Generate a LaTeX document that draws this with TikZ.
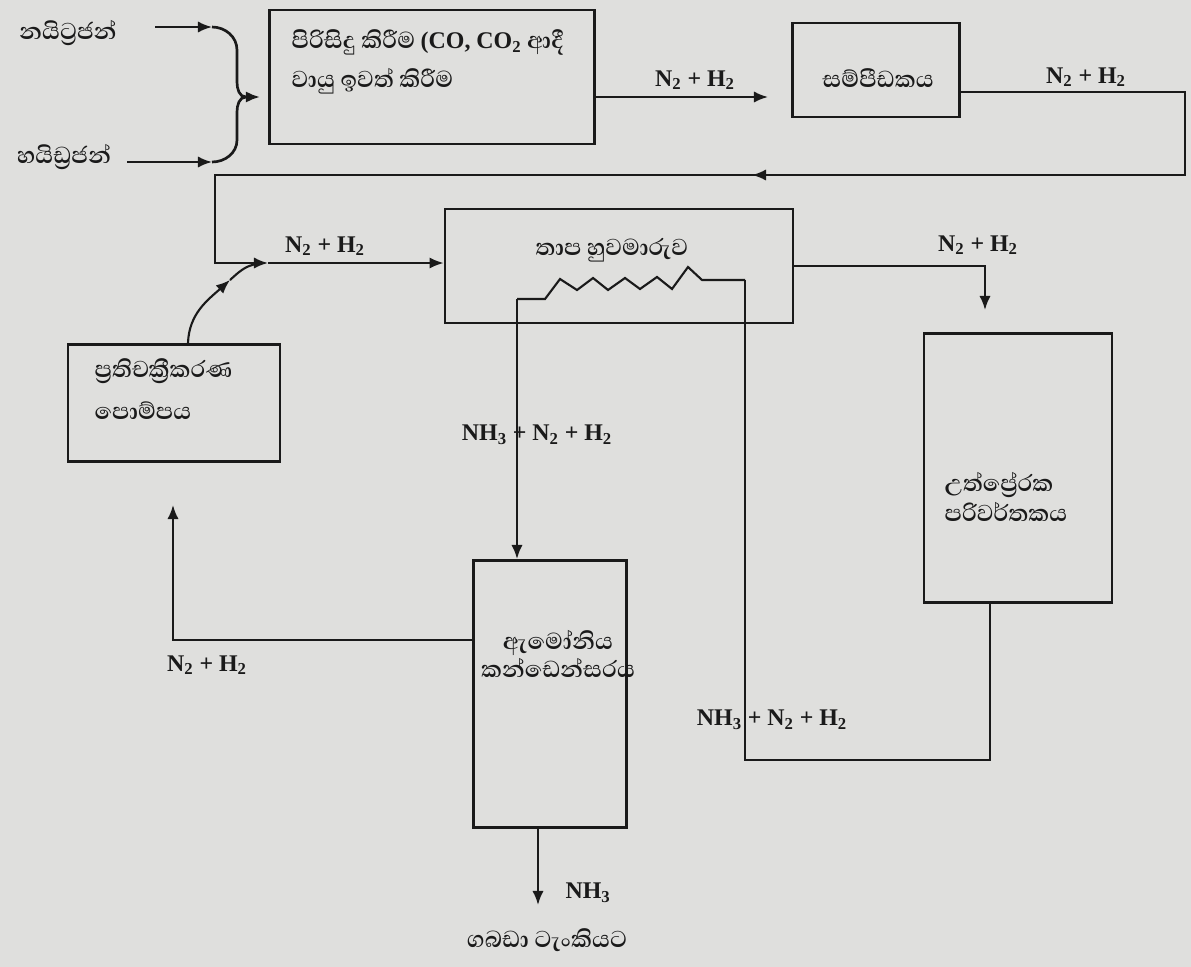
\documentclass[tikz,border=0pt]{standalone}
\usepackage{fontspec}
\setmainfont{Liberation Serif}
\newfontfamily\sinfont[Script=Sinhala]{Abhaya Libre}
\usetikzlibrary{arrows.meta, positioning, calc}
\definecolor{ink}{HTML}{1A1A1A}
\definecolor{paper}{HTML}{DFDFDD}
\newcommand{\synmix}{N\textsubscript{2} + H\textsubscript{2}}
\newcommand{\outmix}{NH\textsubscript{3} + N\textsubscript{2} + H\textsubscript{2}}
\tikzset{
  >={Latex[length=10pt, width=8pt]},
  %
  unit/.style={draw=ink, line width=1.9pt, inner sep=0pt},
  pipe/.style={draw=ink, line width=1.5pt},
  flow/.style={pipe, ->},
  %
  gas/.style={font=\bfseries\fontsize{17}{19}\selectfont, text=ink, inner sep=1pt},
  sin/.style={font=\sinfont\bfseries\fontsize{21}{24}\selectfont, text=ink, inner sep=1pt},
}
\begin{document}
\begin{tikzpicture}[x=0.025cm, y=-0.025cm]
  \fill[paper] (0,0) rectangle (1191,967);
  \useasboundingbox (0,0) rectangle (1191,967);

  % --- the units ---------------------------------------------------------
  \node[unit, minimum width=8.13cm, minimum height=3.35cm] (purify) at (432,77) {};
  \node[unit, minimum width=4.18cm, minimum height=2.35cm] (compressor) at (876,70) {};
  \node[unit, minimum width=8.7cm, minimum height=2.85cm] (heatex) at (619,266) {};
  \node[unit, minimum width=5.3cm, minimum height=2.93cm] (pump) at (174,403) {};
  \node[unit, minimum width=3.83cm, minimum height=6.68cm] (condenser) at (550,694) {};
  \node[unit, minimum width=4.7cm, minimum height=6.73cm] (converter) at (1018,468) {};

  \node[sin, anchor=west, align=left, font=\sinfont\bfseries\fontsize{21}{28}\selectfont] (purifytxt) at (290,62)
    {පිරිසිදු කිරීම {\rmfamily\bfseries\fontsize{17}{19}\selectfont (CO, CO\textsubscript{2}} ආදී\\වායු ඉවත් කිරීම};
  \node[sin] (comptxt) at (878,78) {සම්පීඩකය};
  \node[sin] (heattxt) at (612,250) {තාප හුවමාරුව};
  \node[sin, anchor=west, align=left, font=\sinfont\bfseries\fontsize{21}{30}\selectfont] (pumptxt) at (93,389)
    {ප්^^^^200dරතිචක්^^^^200dරීකරණ\\පොම්පය};
  \node[sin, align=center, font=\sinfont\bfseries\fontsize{21}{20}\selectfont] (condtxt) at (558,654)
    {ඇමෝනිය\\කන්ඩෙන්සරය};
  \node[sin, anchor=west, align=left, font=\sinfont\bfseries\fontsize{21}{21}\selectfont] (convtxt) at (943,497)
    {උත්ප්^^^^200dරේරක\\පරිවර්තකය};
  \node[sin] (tanktxt) at (547,940) {ගබඩා ටැංකියට};

  % --- feed gases into the purifier --------------------------------------
  \node[sin] (nitro) at (68,33) {නයිට්^^^^200dරජන්};
  \node[sin] (hydro) at (64,157) {හයිඩ්^^^^200dරජන්};
  \coordinate (nin) at (155,27);
  \coordinate (hin) at (127,162);
  \coordinate (bt) at (212,27);
  \coordinate (bb) at (212,162);
  \coordinate (bj) at (246,97);
  \draw[flow] (nin) -- (bt);
  \draw[flow] (hin) -- (bb);
  \draw[unit] (bt) to[out=0, in=90] (237,50) -- (237,82) to[out=-90, in=180] (bj);
  \draw[unit] (bb) to[out=0, in=-90] (237,140) -- (237,112) to[out=90, in=180] (bj);
  \draw[flow, line width=1.9pt, shorten >=0.2cm] (bj) -- (purify.west |- bj);

  % --- purifier, compressor, and back round ------------------------------
  \coordinate (cmpin) at (768,97);
  \draw[flow] (cmpin -| purify.east) -- (cmpin);
  \node[gas] (g1) at (695,80) {\synmix};

  \coordinate (rt) at (1185,92);
  \coordinate (rb) at (1185,175);
  \coordinate (lmid) at (752,175);
  \coordinate (lt) at (215,175);
  \coordinate (lb) at (215,263);
  \coordinate (merge) at (268,263);
  \draw[pipe] (rt -| compressor.east) -- (rt) -- (rb) -- (lmid);
  \draw[flow] (rb) -- (lmid);
  \draw[flow] (lmid) -- (lt) -- (lb) -- (merge);
  \draw[flow] (merge) -- (merge -| heatex.west);
  \node[gas] (g2) at (1086,77) {\synmix};
  \node[gas] (g3) at (325,246) {\synmix};

  % recycle pump joins the feed
  \coordinate (pmpmid) at (230,280);
  \coordinate (pmpjoin) at (256,264);
  \draw[flow] (pump.north -| 188,0) to[out=88, in=222] (pmpmid);
  \draw[pipe] (pmpmid) to[out=42, in=192] (pmpjoin);

  % --- heat exchanger coil -----------------------------------------------
  \coordinate (coilL) at (517,299);
  \coordinate (coilR) at (745,280);
  \draw[pipe] (coilL) -- (545,299) -- (560,279) -- (577,290) -- (593,278)
    -- (608,290) -- (625,278) -- (640,289) -- (657,277) -- (672,289)
    -- (688,267) -- (702,280) -- (coilR);

  % heat exchanger to converter
  \coordinate (cvin) at (985,310);
  \draw[flow] (heatex.east) -| (cvin);
  \node[gas] (g4) at (978,245) {\synmix};

  % converter back through the coil
  \coordinate (cvb) at (990,760);
  \coordinate (cbl) at (745,760);
  \draw[pipe] (converter.south -| cvb) -- (cvb) -- (cbl) -- (coilR);
  \node[gas] (g6) at (772,720) {\outmix};

  % coil down into the condenser
  \draw[flow] (coilL) -- (coilL |- condenser.north);
  \node[gas] (g5) at (537,435) {\outmix};

  % condenser gases back to the pump
  \coordinate (pmpret) at (173,505);
  \draw[flow] ([yshift=1.35cm]condenser.west) -| (pmpret);
  \node[gas] (g7) at (207,665) {\synmix};

  % ammonia out to storage
  \coordinate (tank) at (538,905);
  \draw[flow] (tank |- condenser.south) -- (tank);
  \node[gas] (g8) at (588,893) {NH\textsubscript{3}};

\end{tikzpicture}
\end{document}
